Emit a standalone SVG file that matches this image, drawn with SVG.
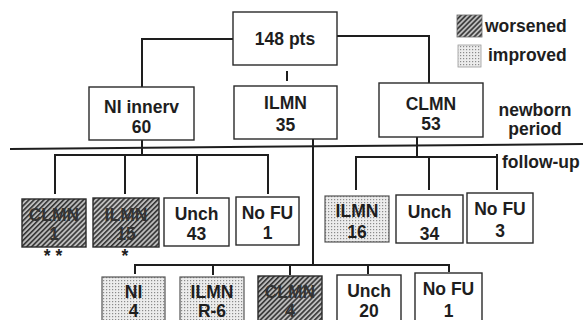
<svg xmlns="http://www.w3.org/2000/svg" width="583" height="320" viewBox="0 0 583 320">
<defs>
<pattern id="hatch" width="3.5" height="3.5" patternUnits="userSpaceOnUse" patternTransform="rotate(45)">
<rect width="3.5" height="3.5" fill="#bdbdbd"/>
<line x1="0.8" y1="0" x2="0.8" y2="3.5" stroke="#333" stroke-width="1.6"/>
</pattern>
<pattern id="dots" width="3" height="3" patternUnits="userSpaceOnUse">
<rect width="3" height="3" fill="#ececec"/>
<rect x="1" y="1" width="1.2" height="1.2" fill="#8a8a8a"/>
</pattern>
</defs>
<style>
.box{fill:#fff;stroke:#2a2a2a;stroke-width:1.4}
.w{fill:url(#hatch);stroke:#2a2a2a;stroke-width:1.4}
.im{fill:url(#dots);stroke:#555;stroke-width:1.2}
.t{font-family:"Liberation Sans",Arial,sans-serif;font-weight:bold;font-size:17.5px;fill:#1e1e1e;text-anchor:middle}
.tw{fill:#333}
.lbl{font-family:"Liberation Sans",Arial,sans-serif;font-weight:bold;font-size:17.5px;fill:#1e1e1e}
.c{fill:none;stroke:#1e1e1e;stroke-width:2}
</style>
<rect width="583" height="320" fill="#fff"/>

<g id="connectors">
<polyline class="c" points="233,39 142,39 142,87"/>
<polyline class="c" points="337,36 429,36 429,83"/>
<line class="c" x1="287" y1="71" x2="287" y2="81"/>
<line class="c" x1="10" y1="149" x2="583" y2="144"/>
<line class="c" x1="142" y1="140" x2="142" y2="155"/>
<polyline class="c" points="55,194 55,155 268,155 268,194"/>
<line class="c" x1="125" y1="155" x2="125" y2="194"/>
<line class="c" x1="197" y1="155" x2="197" y2="194"/>
<line class="c" x1="417" y1="137" x2="417" y2="157"/>
<polyline class="c" points="356,190 356,157 497,157"/>
<line class="c" x1="497" y1="154" x2="497" y2="190"/>
<line class="c" x1="429" y1="157" x2="429" y2="190"/>
<line class="c" x1="313" y1="139" x2="313" y2="265"/>
<polyline class="c" points="135,274 135,265 449,265 449,272"/>
<line class="c" x1="213" y1="265" x2="213" y2="275"/>
<line class="c" x1="290" y1="265" x2="290" y2="275"/>
<line class="c" x1="368" y1="265" x2="368" y2="274"/>
</g>

<g id="legend">
<rect x="457" y="15" width="25" height="22" fill="url(#hatch)" stroke="#666" stroke-width="0.8"/>
<text class="lbl" x="485" y="32">worsened</text>
<rect x="458" y="45" width="23" height="22" fill="url(#dots)" stroke="#999" stroke-width="0.8"/>
<text class="lbl" x="488" y="61">improved</text>
</g>

<g id="period-labels">
<text class="t" x="535" y="116">newborn</text>
<text class="t" x="535" y="135">period</text>
<text class="lbl" x="502" y="168">follow-up</text>
</g>

<g id="n-total"><rect class="box" x="233" y="12" width="104" height="53"/><text class="t" x="285" y="45">148 pts</text></g>
<g id="n-ni"><rect class="box" x="89" y="87" width="105" height="53"/><text class="t" x="141.5" y="113">NI innerv</text><text class="t" x="141.5" y="133">60</text></g>
<g id="n-ilmn"><rect class="box" x="234" y="86" width="103" height="53"/><text class="t" x="285.5" y="109">ILMN</text><text class="t" x="285.5" y="131">35</text></g>
<g id="n-clmn"><rect class="box" x="379" y="83" width="104" height="54"/><text class="t" x="431" y="110">CLMN</text><text class="t" x="431" y="130">53</text></g>

<g id="n-ni-clmn"><rect class="w" x="22" y="199" width="64" height="48"/><text class="t tw" x="54" y="221">CLMN</text><text class="t tw" x="54" y="240">1</text><text class="t" x="53" y="262">* *</text></g>
<g id="n-ni-ilmn"><rect class="w" x="93" y="198" width="66" height="49"/><text class="t tw" x="126" y="221">ILMN</text><text class="t tw" x="126" y="240">15</text><text class="t" x="125" y="262">*</text></g>
<g id="n-ni-unch"><rect class="box" x="164" y="198" width="65" height="48"/><text class="t" x="196.5" y="220">Unch</text><text class="t" x="196.5" y="240">43</text></g>
<g id="n-ni-nofu"><rect class="box" x="236" y="197" width="63" height="48"/><text class="t" x="267.5" y="219">No FU</text><text class="t" x="267.5" y="239">1</text></g>

<g id="n-clmn-ilmn"><rect class="im" x="325" y="196" width="64" height="46"/><text class="t" x="357" y="217">ILMN</text><text class="t" x="357" y="238">16</text></g>
<g id="n-clmn-unch"><rect class="box" x="396" y="195" width="67" height="48"/><text class="t" x="429.5" y="218">Unch</text><text class="t" x="429.5" y="240">34</text></g>
<g id="n-clmn-nofu"><rect class="box" x="467" y="193" width="66" height="50"/><text class="t" x="500" y="215">No FU</text><text class="t" x="500" y="237">3</text></g>

<g id="n-ilmn-ni"><rect class="im" x="102" y="277" width="63" height="50"/><text class="t" x="133.5" y="298">NI</text><text class="t" x="133.5" y="317">4</text></g>
<g id="n-ilmn-ilmn"><rect class="im" x="180" y="277" width="64" height="50"/><text class="t" x="212" y="298">ILMN</text><text class="t" x="212" y="317">R-6</text></g>
<g id="n-ilmn-clmn"><rect class="w" x="258" y="276" width="64" height="50"/><text class="t tw" x="290" y="298">CLMN</text><text class="t tw" x="290" y="317">4</text></g>
<g id="n-ilmn-unch"><rect class="box" x="337" y="275" width="64" height="50"/><text class="t" x="369" y="297">Unch</text><text class="t" x="369" y="317">20</text></g>
<g id="n-ilmn-nofu"><rect class="box" x="415" y="273" width="67" height="50"/><text class="t" x="448.5" y="295">No FU</text><text class="t" x="448.5" y="317">1</text></g>
</svg>
